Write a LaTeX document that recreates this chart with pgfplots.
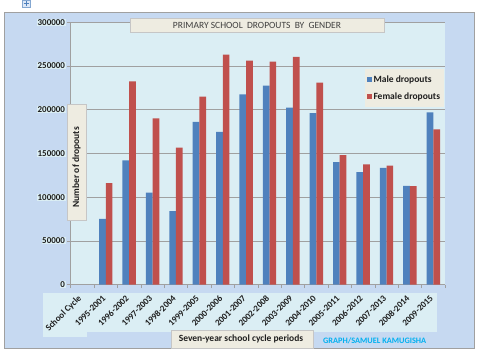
\documentclass[border=0pt]{standalone}
\usepackage{fontspec}
\setmainfont{Carlito}
\usepackage{pgfplots}
\pgfplotsset{compat=1.18}
\definecolor{chartbg}{RGB}{198,217,241}
\definecolor{plotbg}{RGB}{219,238,244}
\definecolor{beige}{RGB}{238,236,225}
\definecolor{male}{RGB}{79,129,189}
\definecolor{female}{RGB}{192,80,77}
\definecolor{credit}{RGB}{0,176,240}
\definecolor{gridc}{RGB}{160,160,160}
\definecolor{txt}{RGB}{30,30,30}
\newcommand{\rl}[1]{\rotatebox{45}{#1}}
\begin{document}
\begin{tikzpicture}[x=1pt,y=1pt]
\fill[white] (0,0) rectangle (480,357);
\filldraw[fill=chartbg, draw=gridc, line width=0.6pt] (4.5,9) rectangle (474,345.3);
\filldraw[fill=chartbg!60, draw=male!70, line width=0.5pt] (22,350) rectangle (30,357);
\draw[male, line width=0.8pt] (26,351)--(26,356) (23.5,353.5)--(28.5,353.5);
\fill[plotbg] (43,25) rectangle (437,64);
\fill[plotbg] (43,20) rectangle (87,25);
\begin{axis}[
  at={(70.7pt,72.7pt)}, anchor=south west,
  scale only axis, width=374.3pt, height=262.3pt,
  ymin=0, ymax=300000, xmin=-0.5, xmax=15.5,
  ybar=0pt, bar width=6.7pt,
  axis background/.style={fill=plotbg},
  axis x line*=bottom, axis y line*=left,
  axis line style={gridc, line width=0.8pt},
  ymajorgrids, grid style={gridc, line width=0.6pt},
  ytick={0,50000,...,300000},
  minor ytick={0,50000,...,300000},
  scaled y ticks=false,
  /pgf/number format/fixed,
  /pgf/number format/1000 sep={},
  /pgf/number format/assume math mode=true,
  tick align=outside,
  major tick length=0pt,
  minor tick length=3.5pt,
  tick style={gridc, line width=0.6pt},
  yticklabel style={font=\bfseries\fontsize{9}{10}\selectfont, text=txt, fill=plotbg, inner sep=0.5pt, xshift=-5pt},
  xtick={0,...,15},
  minor xtick={-0.5,0.5,...,15.5},
  xticklabels={\rl{School Cycle},\rl{1995-2001},\rl{1996-2002},\rl{1997-2003},\rl{1998-2004},\rl{1999-2005},\rl{2000-2006},\rl{2001-2007},\rl{2002-2008},\rl{2003-2009},\rl{2004-2010},\rl{2005-2011},\rl{2006-2012},\rl{2007-2013},\rl{2008-2014},\rl{2009-2015}},
  xticklabel style={anchor=north east, font=\bfseries\fontsize{9}{10}\selectfont, text=txt, inner sep=0pt, yshift=-10pt, xshift=0.5pt},
  xticklabel shift=0pt,
  legend style={at={(0.998,0.821)}, anchor=north east, draw=none, fill=beige,
     font=\bfseries\fontsize{9.5}{11}\selectfont, text=txt, inner xsep=2pt, inner ysep=4pt, row sep=5pt},
  legend cell align=left,
  legend image code/.code={\fill[#1] (0pt,-2.2pt) rectangle (4.4pt,2.2pt);},
]
\addplot[fill=male, draw=none] coordinates {
 (1,75000) (2,142000) (3,105000) (4,84000) (5,186000) (6,174500) (7,217500) (8,227500)
 (9,202500) (10,196000) (11,140000) (12,128500) (13,133500) (14,113000) (15,197000)};
\addplot[fill=female, draw=none] coordinates {
 (1,116000) (2,232500) (3,190000) (4,156500) (5,215000) (6,263000) (7,256000) (8,255000)
 (9,260500) (10,231000) (11,148000) (12,137500) (13,136000) (14,112500) (15,177500)};
\legend{Male dropouts, Female dropouts}
\end{axis}
\filldraw[fill=beige, draw=gridc!60, line width=0.4pt] (130,325) rectangle (384,339);
\node[font=\fontsize{9.5}{11}\selectfont, text=black!75] at (257,332) {PRIMARY SCHOOL\ \ DROPOUTS\ \ BY\ \ GENDER};
\filldraw[fill=beige, draw=gridc!60, line width=0.4pt] (66.7,137) rectangle (86,253);
\node[rotate=90, font=\bfseries\fontsize{9.5}{11}\selectfont, text=txt] at (76.5,190) {Number of dropouts};
\filldraw[fill=beige, draw=gridc!60, line width=0.4pt] (171,9) rectangle (313,27);
\node[font=\bfseries\fontsize{9.5}{11}\selectfont, text=txt] at (241,18) {Seven-year school cycle periods};
\node[font=\bfseries\fontsize{8.3}{10}\selectfont, text=credit] at (374.7,16.3) {GRAPH/SAMUEL KAMUGISHA};
\end{tikzpicture}
\end{document}
